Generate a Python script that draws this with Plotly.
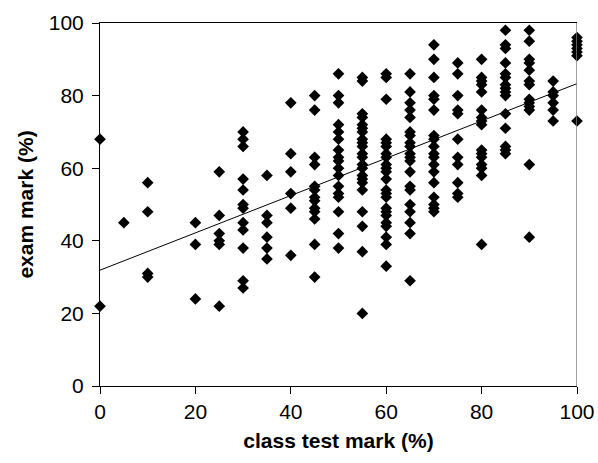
import numpy as np
import plotly.graph_objects as go

# class test mark columns and exam marks
cols = {
    0: [68, 22],
    5: [45],
    10: [56, 48, 31, 30],
    20: [45, 39, 24],
    25: [59, 47, 42, 40, 39, 22],
    30: [70, 68, 66, 57, 54, 50, 49, 45, 43, 38, 29, 27],
    35: [58, 47, 45, 41, 38, 35],
    40: [78, 64, 59, 53, 49, 36],
    45: [80, 76, 63, 61, 55, 54, 52, 51, 49, 48, 46, 39, 30],
    50: [86, 80, 78, 72, 70, 68, 65, 63, 62, 60, 58, 55, 53, 52, 48, 42, 38],
    55: [85, 84, 75, 74, 72, 71, 70, 68, 67, 66, 64, 63, 61, 60, 58, 57, 56, 54, 48, 44, 37, 20],
    60: [86, 85, 79, 68, 67, 66, 64, 63, 61, 60, 59, 57, 54, 53, 52, 49, 48, 47, 45, 44, 41, 39, 33],
    65: [86, 81, 78, 76, 74, 70, 69, 67, 66, 64, 63, 62, 59, 55, 54, 50, 48, 45, 42, 29],
    70: [94, 90, 85, 80, 79, 76, 69, 68, 66, 64, 63, 61, 59, 56, 52, 50, 49, 48],
    75: [89, 86, 80, 76, 75, 68, 63, 61, 56, 53, 52],
    80: [90, 85, 84, 83, 81, 76, 74, 73, 72, 65, 64, 63, 61, 60, 58, 39],
    85: [98, 94, 93, 89, 86, 85, 83, 82, 81, 80, 75, 71, 66, 65, 64],
    90: [98, 95, 90, 89, 87, 84, 83, 79, 78, 77, 76, 61, 41],
    95: [84, 81, 80, 78, 76, 73],
    100: [96, 95, 94, 93, 92, 91, 73],
}
class_test = [k for k, v in cols.items() for _ in v]
exam = [y for v in cols.values() for y in v]

tick_vals = [0, 20, 40, 60, 80, 100]

slope, intercept = np.polyfit(class_test, exam, 1)
trend_x = [0, 100]
trend_y = [intercept + slope * x for x in trend_x]

fig = go.Figure()
fig.add_trace(go.Scatter(x=trend_x, y=trend_y, mode="lines",
                         line=dict(color="black", width=1), showlegend=False,
                         hoverinfo="skip"))
fig.add_trace(go.Scatter(x=class_test, y=exam, mode="markers",
                         marker=dict(symbol="diamond", size=9, color="black"),
                         showlegend=False, cliponaxis=False))

font = "Liberation Sans, Arial, sans-serif"
fig.update_layout(
    width=598, height=463,
    margin=dict(l=100, r=21, t=23, b=77, autoexpand=False),
    plot_bgcolor="white", paper_bgcolor="white",
    font=dict(family=font, size=21, color="black"),
    xaxis=dict(range=[0, 100], tickvals=tick_vals, showgrid=False, zeroline=False,
               showline=True, linecolor="black", linewidth=1, mirror=True,
               ticks="outside", ticklen=7, tickcolor="black", automargin=False,
               title=dict(text="<b>class test mark (%)</b>", font=dict(size=21), standoff=11)),
    yaxis=dict(range=[0, 100], tickvals=tick_vals, showgrid=False, zeroline=False,
               showline=True, linecolor="black", linewidth=1,
               ticks="outside", ticklen=7, tickcolor="black", automargin=False,
               ticklabelstandoff=4,
               title=dict(text="<b>exam mark (%)</b>", font=dict(size=21), standoff=9)),
    shapes=[dict(type="line", xref="x", yref="paper", x0=100, x1=100, y0=0, y1=1,
                 line=dict(color="#808080", width=1.5))],
)
fig.write_html("out.html")
